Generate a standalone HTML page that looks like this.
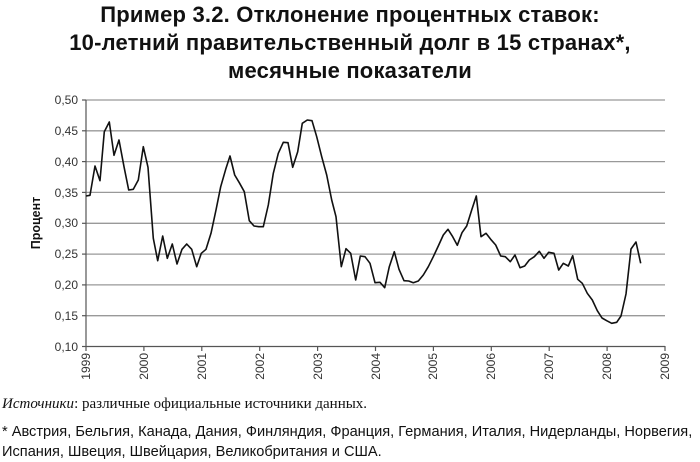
<!DOCTYPE html>
<html><head><meta charset="utf-8"><style>
body{margin:0;width:700px;height:458px;background:#fff;overflow:hidden;font-family:"Liberation Sans","DejaVu Sans",sans-serif}
.t{position:absolute;left:0;width:700px;text-align:center;font-weight:bold;font-size:22px;line-height:28px;top:1px;letter-spacing:0.2px;color:#111}
.src{position:absolute;left:2px;top:396px;font-family:"Liberation Serif",serif;font-size:15px;color:#111}
.n{position:absolute;left:2px;top:423px;font-size:14.6px;line-height:19.5px;color:#111;white-space:nowrap}
</style></head><body>
<div class="t">Пример 3.2. Отклонение процентных ставок:<br>10-летний правительственный долг в 15 странах*,<br>месячные показатели</div>
<svg width="700" height="458" style="position:absolute;left:0;top:0">
<g stroke="#999" stroke-width="1.3">
<line x1="86" y1="100" x2="665" y2="100"/><line x1="86" y1="130.8" x2="665" y2="130.8"/><line x1="86" y1="161.6" x2="665" y2="161.6"/><line x1="86" y1="192.4" x2="665" y2="192.4"/><line x1="86" y1="223.3" x2="665" y2="223.3"/><line x1="86" y1="254.1" x2="665" y2="254.1"/><line x1="86" y1="284.9" x2="665" y2="284.9"/><line x1="86" y1="315.7" x2="665" y2="315.7"/>
</g>
<g stroke="#555" stroke-width="1.2">
<line x1="86" y1="100" x2="86" y2="347"/><line x1="86" y1="346.5" x2="665" y2="346.5"/>
<line x1="82" y1="100" x2="86" y2="100"/><line x1="82" y1="130.8" x2="86" y2="130.8"/><line x1="82" y1="161.6" x2="86" y2="161.6"/><line x1="82" y1="192.4" x2="86" y2="192.4"/><line x1="82" y1="223.3" x2="86" y2="223.3"/><line x1="82" y1="254.1" x2="86" y2="254.1"/><line x1="82" y1="284.9" x2="86" y2="284.9"/><line x1="82" y1="315.7" x2="86" y2="315.7"/><line x1="82" y1="346.5" x2="86" y2="346.5"/>
<line x1="86" y1="346" x2="86" y2="351"/><line x1="143.9" y1="346" x2="143.9" y2="351"/><line x1="201.8" y1="346" x2="201.8" y2="351"/><line x1="259.7" y1="346" x2="259.7" y2="351"/><line x1="317.6" y1="346" x2="317.6" y2="351"/><line x1="375.5" y1="346" x2="375.5" y2="351"/><line x1="433.4" y1="346" x2="433.4" y2="351"/><line x1="491.3" y1="346" x2="491.3" y2="351"/><line x1="549.2" y1="346" x2="549.2" y2="351"/><line x1="607.1" y1="346" x2="607.1" y2="351"/><line x1="665" y1="346" x2="665" y2="351"/>
</g>
<g font-size="12" fill="#333" text-anchor="end">
<text x="78" y="104">0,50</text><text x="78" y="135">0,45</text><text x="78" y="166">0,40</text><text x="78" y="197">0,35</text><text x="78" y="227">0,30</text><text x="78" y="258">0,25</text><text x="78" y="289">0,20</text><text x="78" y="320">0,15</text><text x="78" y="351">0,10</text>
</g>
<g font-size="12" fill="#333" text-anchor="end">
<text transform="translate(90,353) rotate(-90)">1999</text><text transform="translate(148,353) rotate(-90)">2000</text><text transform="translate(206,353) rotate(-90)">2001</text><text transform="translate(264,353) rotate(-90)">2002</text><text transform="translate(322,353) rotate(-90)">2003</text><text transform="translate(380,353) rotate(-90)">2004</text><text transform="translate(437,353) rotate(-90)">2005</text><text transform="translate(495,353) rotate(-90)">2006</text><text transform="translate(553,353) rotate(-90)">2007</text><text transform="translate(611,353) rotate(-90)">2008</text><text transform="translate(669,353) rotate(-90)">2009</text>
</g>
<text transform="translate(40,223) rotate(-90)" text-anchor="middle" font-size="12.5" font-weight="bold" fill="#111">Процент</text>
<polyline fill="none" stroke="#111" stroke-width="1.6" stroke-linejoin="round" points="86,196 90,195.3 95,166 100,180.7 104.3,131.7 109.3,122 114,155.3 119,140 124,166.7 128.7,190 133.3,189.3 138.3,180 143.3,146.7 148,167.3 153.3,238.3 157.7,260.7 162.7,236 167.3,258.3 172.3,244 177,264 182,249.3 186.7,244 191.7,249.3 196.7,266.7 201.3,253.3 206,249.3 211,233.3 216,210 220.7,186.7 225.7,169.3 230,156 234.7,175 239.3,182.7 244.3,191.7 249.3,220.7 254,226 258.7,226.7 263.3,226.7 268.3,205 273.3,173.3 278.3,153.3 283.3,142.3 288,142.7 292.7,167.3 297.7,151.7 302.3,123.3 307.3,120 312,120.7 316.7,136.7 321.7,156.7 326.7,175 331.7,200 336,216.7 341.3,266.7 346,248.7 350.7,253.3 355.7,280 360.3,256 365,256.7 370,263.3 375,282.7 380,282.3 384.7,287.7 389.3,266.7 394.3,251.7 399,269.3 404,280.7 408.7,281 413.3,282.7 418.3,281 423.3,275 428.3,266.7 433.3,256.7 438.3,246 443.3,235 448,229.3 452.7,236.7 457.3,245.3 462,232.7 466.7,226 471.7,210 476.3,196 481,236.7 486,233.3 490.7,239.3 495.7,245 500.7,256 505.3,256.7 510.3,261.7 515,255 520,267.7 524.7,266 529.3,260 534.3,256.7 539.3,251.3 544,258.3 548.7,252.3 554,253.3 558.7,270 563.3,263.3 568.3,266 572.7,255.7 577.7,279.3 582.3,283.3 587.3,293.3 592.3,300 597.3,310.7 602,318 606.7,320.7 611.7,323.3 616.7,322.3 621,316 626,294 631,249 636,242 640.7,263.3"/>
</svg>
<div class="src"><i>Источники</i>: различные официальные источники данных.</div>
<div class="n">* Австрия, Бельгия, Канада, Дания, Финляндия, Франция, Германия, Италия, Нидерланды, Норвегия,<br>Испания, Швеция, Швейцария, Великобритания и США.</div>
</body></html>
